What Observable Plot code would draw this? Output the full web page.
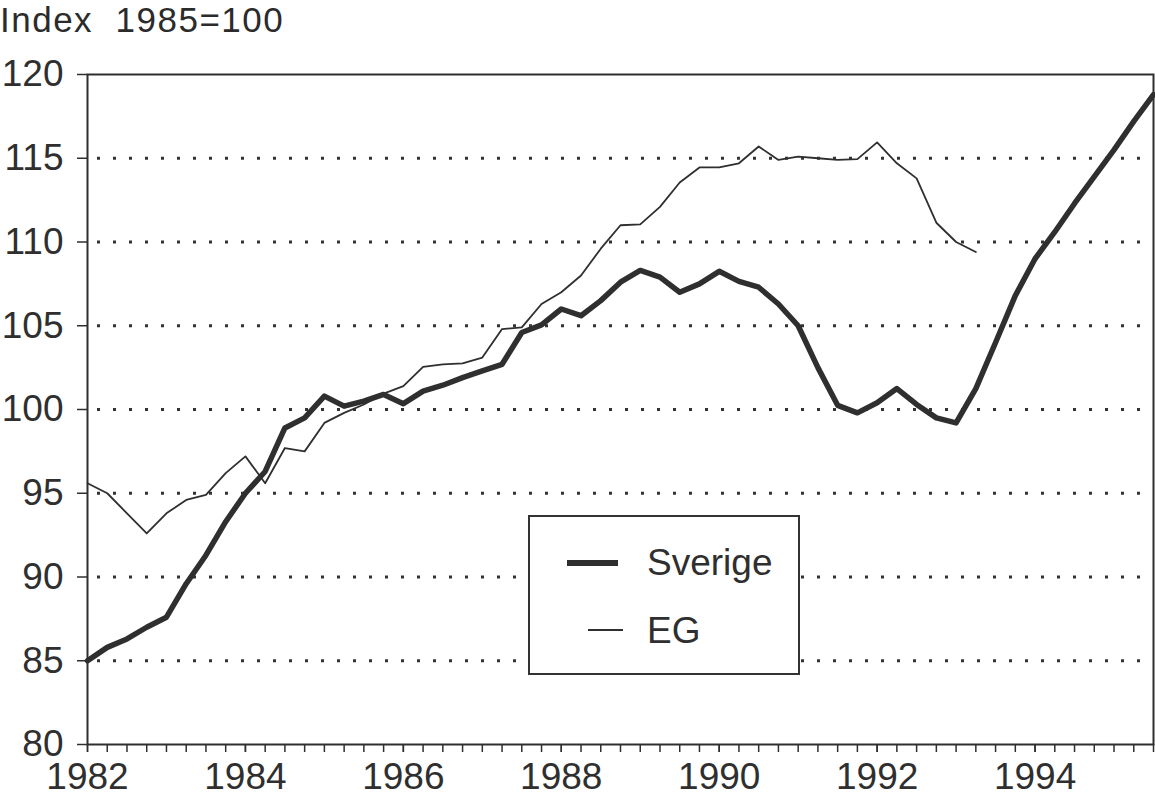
<!DOCTYPE html>
<html><head><meta charset="utf-8">
<script src="https://cdn.jsdelivr.net/npm/d3@7"></script>
<script src="https://cdn.jsdelivr.net/npm/@observablehq/plot@0.6"></script>
<style>
body{margin:0;background:#fff;font-family:"Liberation Sans",Arial,sans-serif;color:#2b2b2b}
#wrap{position:relative;width:1155px;height:798px;overflow:hidden}
#chart{position:absolute;left:0;top:0}
#title{position:absolute;left:0;top:0;font-size:35px;letter-spacing:1.5px;line-height:normal;white-space:pre}
#legend{position:absolute;left:528px;top:515px;width:272px;height:160px;border:2px solid #333;background:#fff;box-sizing:border-box}
#legend svg{position:absolute;left:0;top:0}
</style></head><body>
<div id="wrap">
<div id="chart"></div>
<div id="title">Index  1985=100</div>
<div id="legend"></div>
</div>
<script>
// Quarterly index values, 1985=100, first quarter 1982 Q1
const startYear = 1982;
const sverige = [
  85.0, 85.8, 86.3, 87.0,
  87.6, 89.6, 91.3, 93.3,
  95.0, 96.3, 98.9, 99.5,
  100.8, 100.2, 100.5, 100.9,
  100.35, 101.1, 101.45, 101.9,
  102.3, 102.7, 104.6, 105.05,
  106.0, 105.6, 106.5, 107.6,
  108.3, 107.9, 107.0, 107.5,
  108.25, 107.65, 107.3, 106.3,
  105.0, 102.5, 100.25, 99.8,
  100.4, 101.25, 100.3, 99.5,
  99.2, 101.25, 104.0, 106.8,
  109.0, 110.6, 112.3, 113.9,
  115.5, 117.2, 118.8
];
const eg = [
  95.6, 95.0, 93.8, 92.6,
  93.8, 94.6, 94.9, 96.2,
  97.2, 95.6, 97.7, 97.5,
  99.2, 99.8, 100.3, 100.95,
  101.4, 102.55, 102.7, 102.75,
  103.1, 104.8, 104.9, 106.3,
  107.0, 108.0, 109.6, 111.0,
  111.05, 112.1, 113.55, 114.45,
  114.45, 114.7, 115.7, 114.9,
  115.1, 115.0, 114.9, 114.95,
  115.95, 114.7, 113.8, 111.15,
  110.0, 109.4
];
const yearLabels = [1982, 1984, 1986, 1988, 1990, 1992, 1994];
const yTicks = [80, 85, 90, 95, 100, 105, 110, 115, 120];
const gridValues = [85, 90, 95, 100, 105, 110, 115];
const xDomain = [1982, 1995.5];

const toRows = arr => arr.map((v, i) => ({t: startYear + i / 4, v}));
const quarterTicks = d3.range(0, (xDomain[1] - xDomain[0]) * 4 + 1).map(i => xDomain[0] + i / 4);
const ink = "#2f2f2f";

const chart = Plot.plot({
  width: 1155,
  height: 798,
  marginLeft: 87,
  marginRight: 2,
  marginTop: 74,
  marginBottom: 54,
  style: {fontFamily: '"Liberation Sans", Arial, sans-serif', fontSize: "37px", color: ink, background: "transparent"},
  x: {domain: xDomain, label: null},
  y: {domain: [80, 120], label: null},
  marks: [
    Plot.gridY(gridValues, {stroke: "#333", strokeOpacity: 1, strokeWidth: 3, strokeDasharray: "3,13", strokeDashoffset: -10}),
    Plot.line(toRows(eg), {x: "t", y: "v", stroke: ink, strokeWidth: 1.8}),
    Plot.line(toRows(sverige), {x: "t", y: "v", stroke: ink, strokeWidth: 5.5}),
    Plot.frame({stroke: ink, strokeWidth: 2}),
    Plot.axisX({ticks: quarterTicks, tickSize: 8, fill: "none", stroke: ink, strokeWidth: 1.5, label: null}),
    Plot.axisX({ticks: yearLabels, tickSize: 8, tickPadding: 10, fontSize: 37, fill: ink, stroke: ink, strokeWidth: 1.5, label: null,
      tickFormat: d => String(d)}),
    Plot.axisY({ticks: yTicks, tickSize: 10, tickPadding: 14, fontSize: 37, fill: ink, stroke: ink, strokeWidth: 1.5, label: null,
      tickFormat: d => String(d)})
  ]
});
document.getElementById("chart").appendChild(chart);

// legend
const L = d3.select("#legend").append("svg").attr("width", 268).attr("height", 156)
  .style("font-family", '"Liberation Sans", Arial, sans-serif').style("font-size", "37px");
L.append("line").attr("x1", 37).attr("x2", 88).attr("y1", 46).attr("y2", 46).attr("stroke", ink).attr("stroke-width", 6);
L.append("text").attr("x", 117).attr("y", 58).attr("fill", ink).text("Sverige");
L.append("line").attr("x1", 58).attr("x2", 93).attr("y1", 113).attr("y2", 113).attr("stroke", ink).attr("stroke-width", 1.8);
L.append("text").attr("x", 117).attr("y", 126).attr("fill", ink).text("EG");
</script>
</body></html>
